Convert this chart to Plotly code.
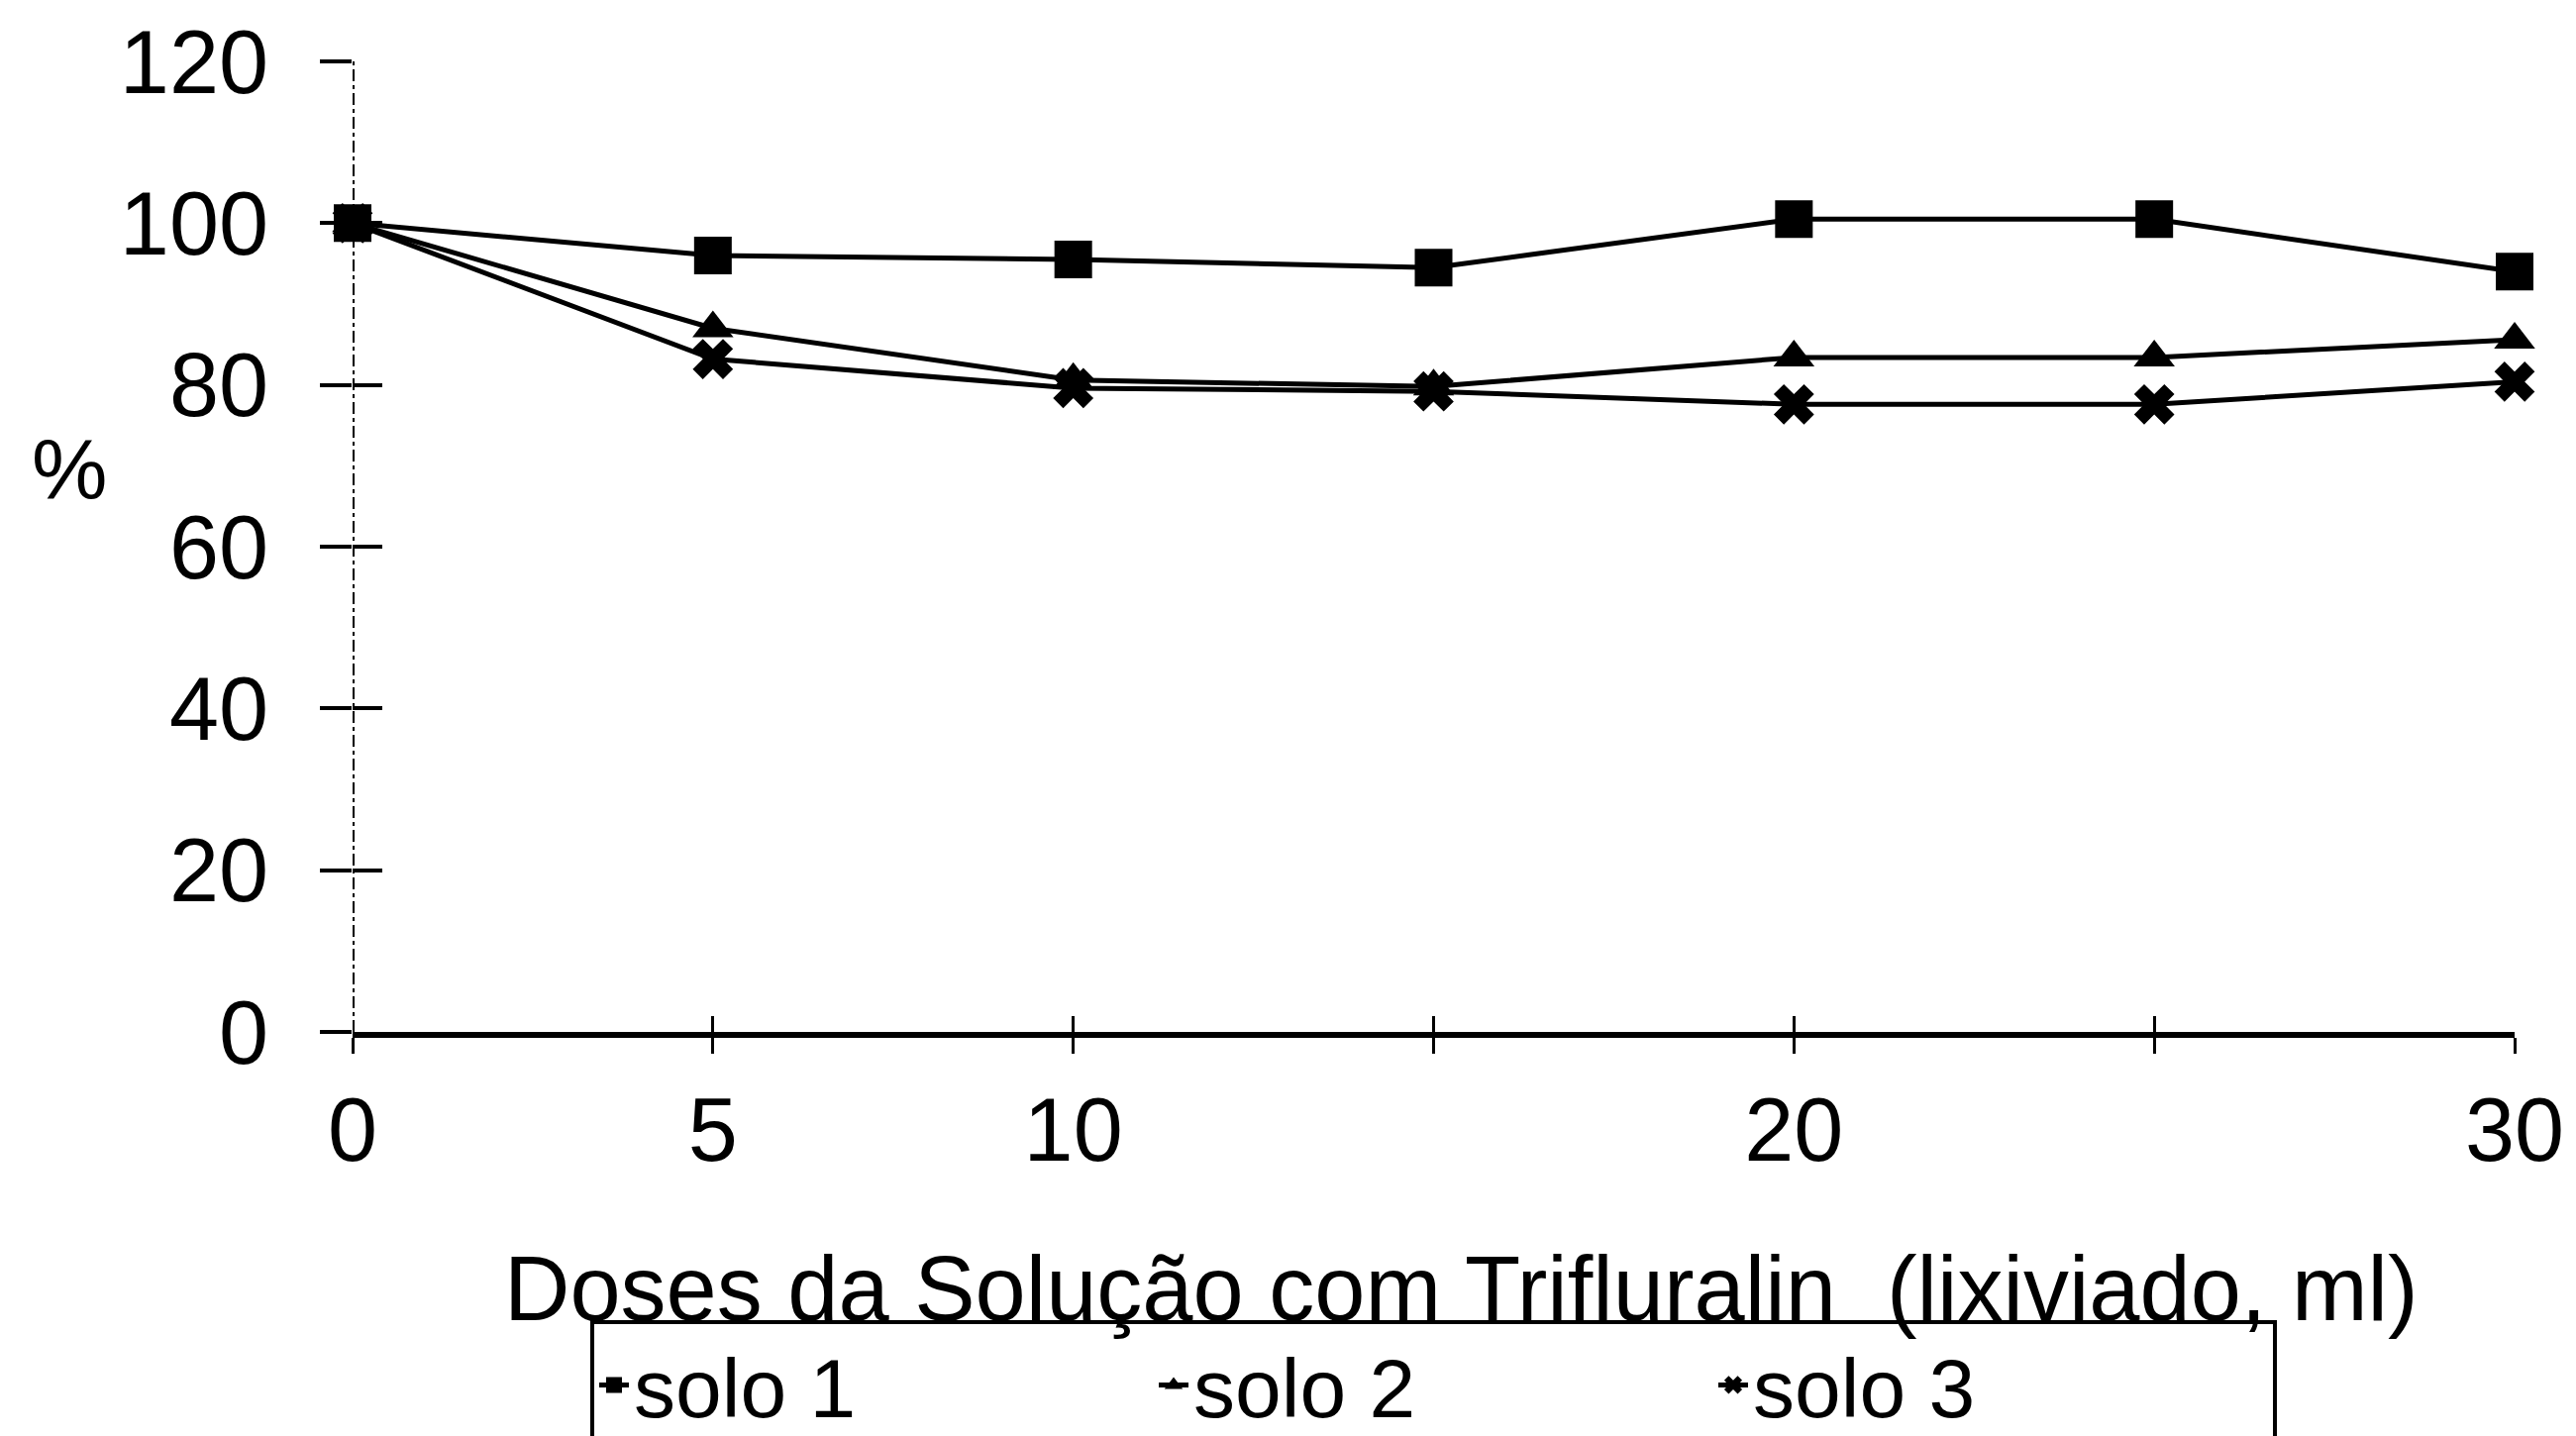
import plotly.graph_objects as go

# doses (ml) and % values per soil
doses = [0, 5, 10, 15, 20, 25, 30]
tick_labels = ["0", "5", "10", "", "20", "", "30"]
y_ticks = [0, 20, 40, 60, 80, 100, 120]
solo1 = [100, 96, 95.5, 94.5, 100.5, 100.5, 94]
solo2 = [100, 87, 80.6, 79.8, 83.4, 83.4, 85.6]
solo3 = [100, 83.2, 79.6, 79.2, 77.6, 77.6, 80.4]

FONT = "Liberation Sans, Arial, sans-serif"

fig = go.Figure()

fig.add_trace(go.Scatter(
    x=doses, y=solo1, name="solo 1", mode="lines+markers",
    line=dict(color="black", width=5),
    marker=dict(symbol="square", size=38, color="black"),
    cliponaxis=False,
))
fig.add_trace(go.Scatter(
    x=doses, y=solo2, name="solo 2", mode="lines+markers",
    line=dict(color="black", width=5),
    marker=dict(symbol="triangle-up", size=36, color="black"),
    cliponaxis=False,
))
fig.add_trace(go.Scatter(
    x=doses, y=solo3, name="solo 3", mode="lines+markers",
    line=dict(color="black", width=5),
    marker=dict(symbol="x", size=36, color="black"),
    cliponaxis=False,
))

fig.update_layout(
    width=2601,
    height=1450,
    paper_bgcolor="white",
    plot_bgcolor="white",
    margin=dict(l=348, r=70, t=54, b=416, autoexpand=False),
    font=dict(family=FONT, size=90, color="black"),
    showlegend=True,
    legend=dict(
        orientation="h",
        xref="paper", x=0.5, xanchor="center",
        yref="container", y=0.086, yanchor="top",
        bordercolor="black", borderwidth=4,
        font=dict(size=84),
        entrywidth=520,
        itemwidth=30,
        itemsizing="trace",
    ),
    xaxis=dict(
        range=[0, 30],
        tickvals=doses,
        ticktext=tick_labels,
        showgrid=False,
        zeroline=False,
        showline=True, linecolor="black", linewidth=6,
        ticks="outside", ticklen=16, tickwidth=3, tickcolor="black",
        ticklabelstandoff=0,
        ticklabeloverflow="allow",
    ),
    xaxis2=dict(
        overlaying="x", matches="x", range=[0, 30],
        tickvals=doses, showticklabels=False,
        showgrid=False, zeroline=False, showline=False,
        ticks="inside", ticklen=16, tickwidth=3, tickcolor="black",
    ),
    yaxis=dict(
        range=[0, 120],
        tickvals=y_ticks,
        showgrid=False,
        zeroline=False,
        showline=False,
        ticks="outside", ticklen=32, tickwidth=4, tickcolor="black",
        ticklabelstandoff=34,
        ticklabeloverflow="allow",
    ),
    yaxis2=dict(
        overlaying="y", matches="y", range=[0, 120],
        tickvals=y_ticks[:-1], showticklabels=False,
        showgrid=False, zeroline=False, showline=False,
        ticks="inside", ticklen=30, tickwidth=4, tickcolor="black",
    ),
)

# dummy trace so the overlay axes render their ticks
fig.add_trace(go.Scatter(x=[None], y=[None], xaxis="x2", yaxis="y2",
                         showlegend=False, hoverinfo="skip"))

# dash-dot y axis line
fig.add_shape(type="line", xref="x", yref="y", x0=0, x1=0, y0=0, y1=120,
              line=dict(color="black", width=4, dash="dashdot"), layer="below")

fig.add_annotation(text="%", xref="paper", yref="paper", x=-0.131, y=0.58,
                   showarrow=False, font=dict(size=86), xanchor="center", yanchor="middle")
fig.add_annotation(text="Doses da Solução com Trifluralin  (lixiviado, ml)",
                   xref="paper", yref="paper", x=0.513, y=-0.264,
                   showarrow=False, font=dict(size=92), xanchor="center", yanchor="middle")

fig.write_html("out.html")
